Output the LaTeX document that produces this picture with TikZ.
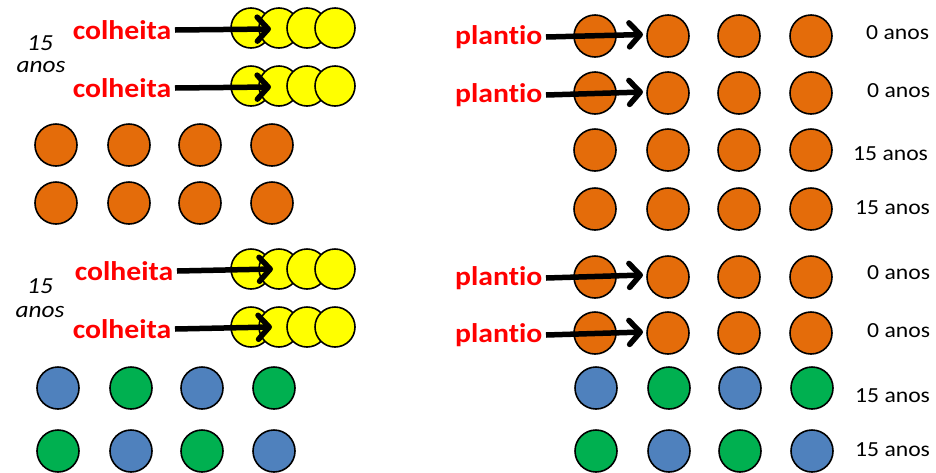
\documentclass[tikz,border=0pt]{standalone}
\usepackage{graphicx}
\usepackage{fontspec}
\setmainfont{Carlito}[Ligatures={NoCommon,NoRequired,NoContextual}]
\usetikzlibrary{arrows.meta}
\definecolor{corange}{HTML}{E46C0A}
\definecolor{cyellow}{HTML}{FFFF00}
\definecolor{cblue}{HTML}{4F81BD}
\definecolor{cgreen}{HTML}{00B050}
\newcommand{\hstr}[1]{\scalebox{1.1}[1]{#1}}
\tikzset{
  dot/.style={circle, draw=black, line width=1.6pt, minimum size=42pt, inner sep=0pt},
  ydot/.style={dot, fill=cyellow, minimum size=40pt},
  odot/.style={dot, fill=corange},
  bdot/.style={dot, fill=cblue},
  gdot/.style={dot, fill=cgreen},
  redlab/.style={text=red, font=\bfseries\fontsize{27}{30}\selectfont, inner ysep=1pt, inner xsep=3.5pt},
  agelab/.style={font=\fontsize{21.5}{24}\selectfont, inner sep=0pt, anchor=base west},
  itlab/.style={font=\itshape\fontsize{23}{26}\selectfont, inner sep=0pt, anchor=base},
  arr/.style={line width=5.5pt, -{Straight Barb[length=11pt,width=24pt,round]}}
}
\begin{document}
\begin{tikzpicture}[x=1pt,y=-1pt]
\useasboundingbox (0,0) rectangle (936,472);
% ---------- left side ----------
\node[itlab] (lt1) at (40,50) {\hstr{15}};
\node[itlab] (lt2) at (41,72) {\hstr{anos}};
\node[itlab] (lt3) at (40,293) {\hstr{15}};
\node[itlab] (lt4) at (40,317) {\hstr{anos}};
% yellow rows
\foreach \r/\yy in {1/28,2/86,3/269,4/327}{
  \foreach \c/\xx in {1/251,2/279,3/307,4/335}{
    \node[ydot] (y\r\c) at (\xx,\yy) {};
  }
}
\node[redlab, anchor=east] (ch1) at (175,30) {\hstr{colheita}};
\node[redlab, anchor=east] (ch2) at (175,88) {\hstr{colheita}};
\node[redlab, anchor=east] (ch3) at (177,271) {\hstr{colheita}};
\node[redlab, anchor=east] (ch4) at (175,329) {\hstr{colheita}};
\coordinate (tc1) at (271,29);
\coordinate (tc2) at (271,87);
\coordinate (tc3) at (273,269);
\coordinate (tc4) at (272,327);
\foreach \i in {1,2,3,4}{
  \draw[arr] (ch\i.east) -- (tc\i);
}
% orange rows left
\foreach \r/\yy in {1/145,2/203}{
  \foreach \c/\xx in {1/56,2/129,3/200,4/272}{
    \node[odot] (lo\r\c) at (\xx,\yy) {};
  }
}
% blue/green rows left
\node[bdot] (lb11) at (58,388) {};
\node[gdot] (lb12) at (131,388) {};
\node[bdot] (lb13) at (202,388) {};
\node[gdot] (lb14) at (274,388) {};
\node[gdot] (lb21) at (58,451) {};
\node[bdot] (lb22) at (131,451) {};
\node[gdot] (lb23) at (202,451) {};
\node[bdot] (lb24) at (274,451) {};
% ---------- right side ----------
\foreach \r/\yy in {1/36,2/93,3/150,4/209,5/277,6/333}{
  \foreach \c/\xx in {1/595,2/668,3/739,4/811}{
    \node[odot] (ro\r\c) at (\xx,\yy) {};
  }
}
\node[bdot] (rb11) at (596,388) {};
\node[gdot] (rb12) at (669,388) {};
\node[bdot] (rb13) at (740,388) {};
\node[gdot] (rb14) at (812,388) {};
\node[gdot] (rb21) at (596,451) {};
\node[bdot] (rb22) at (669,451) {};
\node[gdot] (rb23) at (740,451) {};
\node[bdot] (rb24) at (812,451) {};
% plantio labels and arrows
\node[redlab, anchor=east] (pl1) at (546,37) {\hstr{plantio}};
\node[redlab, anchor=east] (pl2) at (546,95) {\hstr{plantio}};
\node[redlab, anchor=east] (pl3) at (546,278) {\hstr{plantio}};
\node[redlab, anchor=east] (pl4) at (546,335) {\hstr{plantio}};
\coordinate (tp1) at (643,34.5);
\coordinate (tp2) at (643,92);
\coordinate (tp3) at (643,275);
\coordinate (tp4) at (643,332);
\foreach \i in {1,2,3,4}{
  \draw[arr] (pl\i.east) -- (tp\i);
}
% age labels
\node[agelab] (a1) at (866,39) {\hstr{0 anos}};
\node[agelab] (a2) at (867,97) {\hstr{0 anos}};
\node[agelab] (a3) at (853,160) {\hstr{15 anos}};
\node[agelab] (a4) at (855,214) {\hstr{15 anos}};
\node[agelab] (a5) at (867,279) {\hstr{0 anos}};
\node[agelab] (a6) at (867,337) {\hstr{0 anos}};
\node[agelab] (a7) at (855,402) {\hstr{15 anos}};
\node[agelab] (a8) at (855,456) {\hstr{15 anos}};
\end{tikzpicture}
\end{document}
